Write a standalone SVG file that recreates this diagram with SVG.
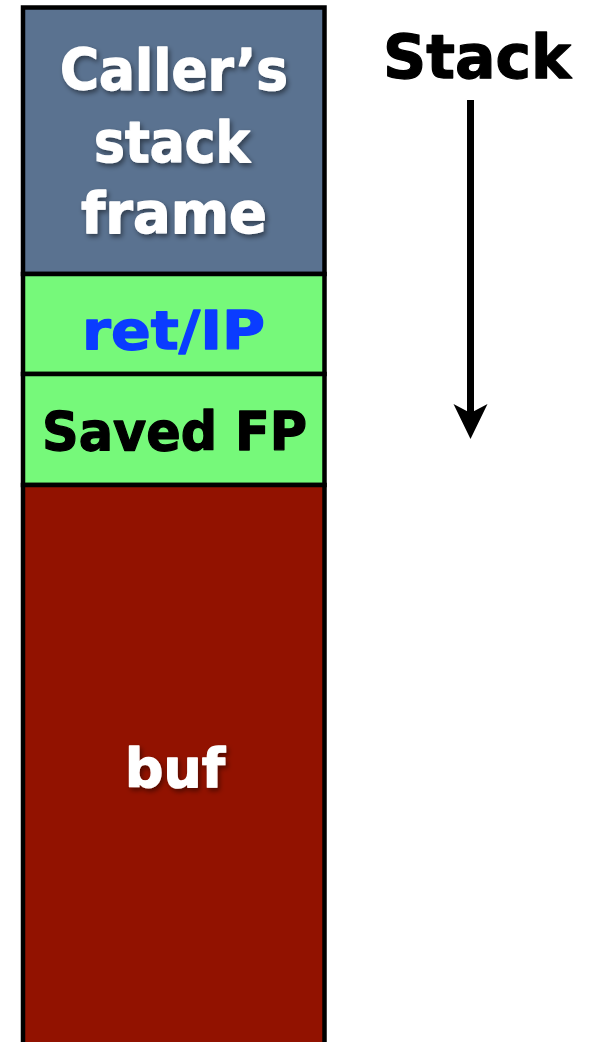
<svg xmlns="http://www.w3.org/2000/svg" width="592" height="1042" viewBox="0 0 592 1042">
  <style>
    .box { stroke: #000; stroke-width: 4.5; }
    .lbl { font-family: "DejaVu Sans", "Liberation Sans", sans-serif; font-weight: bold; text-anchor: middle; stroke-width: 1.3; stroke-linejoin: round; }
    .white { fill: #ffffff; stroke: #ffffff; filter: url(#shadow); }
  </style>
  <defs>
    <filter id="shadow" x="-20%" y="-30%" width="140%" height="160%">
      <feDropShadow dx="2" dy="3" stdDeviation="2.5" flood-color="#000" flood-opacity="0.45"/>
    </filter>
  </defs>
  <rect x="0" y="0" width="592" height="1042" fill="#ffffff"/>

  <g id="caller">
    <rect class="box" x="23" y="7.5" width="301.5" height="266.5" fill="#5a7290"/>
    <text class="lbl white" x="174" y="90" font-size="57" textLength="228" lengthAdjust="spacingAndGlyphs">Caller’s</text>
    <text class="lbl white" x="172" y="162" font-size="57" textLength="156" lengthAdjust="spacingAndGlyphs">stack</text>
    <text class="lbl white" x="174" y="233" font-size="57" textLength="186" lengthAdjust="spacingAndGlyphs">frame</text>
  </g>

  <g id="ret">
    <rect class="box" x="23" y="274" width="301.5" height="100" fill="#76f97a"/>
    <text class="lbl" x="173.5" y="349" font-size="53" fill="#0a3cff" stroke="#0a3cff" textLength="183" lengthAdjust="spacingAndGlyphs">ret/IP</text>
  </g>

  <g id="savedfp">
    <rect class="box" x="23" y="374" width="301.5" height="111" fill="#76f97a"/>
    <text class="lbl" x="174.5" y="450" font-size="54" fill="#000" stroke="#000" textLength="265" lengthAdjust="spacingAndGlyphs">Saved FP</text>
  </g>

  <g id="buf">
    <rect class="box" x="23" y="485" width="301.5" height="570" fill="#921200"/>
    <text class="lbl white" x="175" y="787" font-size="53" textLength="100" lengthAdjust="spacingAndGlyphs">buf</text>
  </g>

  <g id="stack-label">
    <text class="lbl" x="477" y="78" font-size="61" fill="#000" stroke="#000" textLength="188" lengthAdjust="spacingAndGlyphs">Stack</text>
  </g>

  <g id="connectors">
    <line x1="470.5" y1="100" x2="470.5" y2="415" stroke="#000" stroke-width="7"/>
    <polygon points="470.5,439 453.5,404 470.5,413 487.5,404" fill="#000"/>
  </g>
</svg>
